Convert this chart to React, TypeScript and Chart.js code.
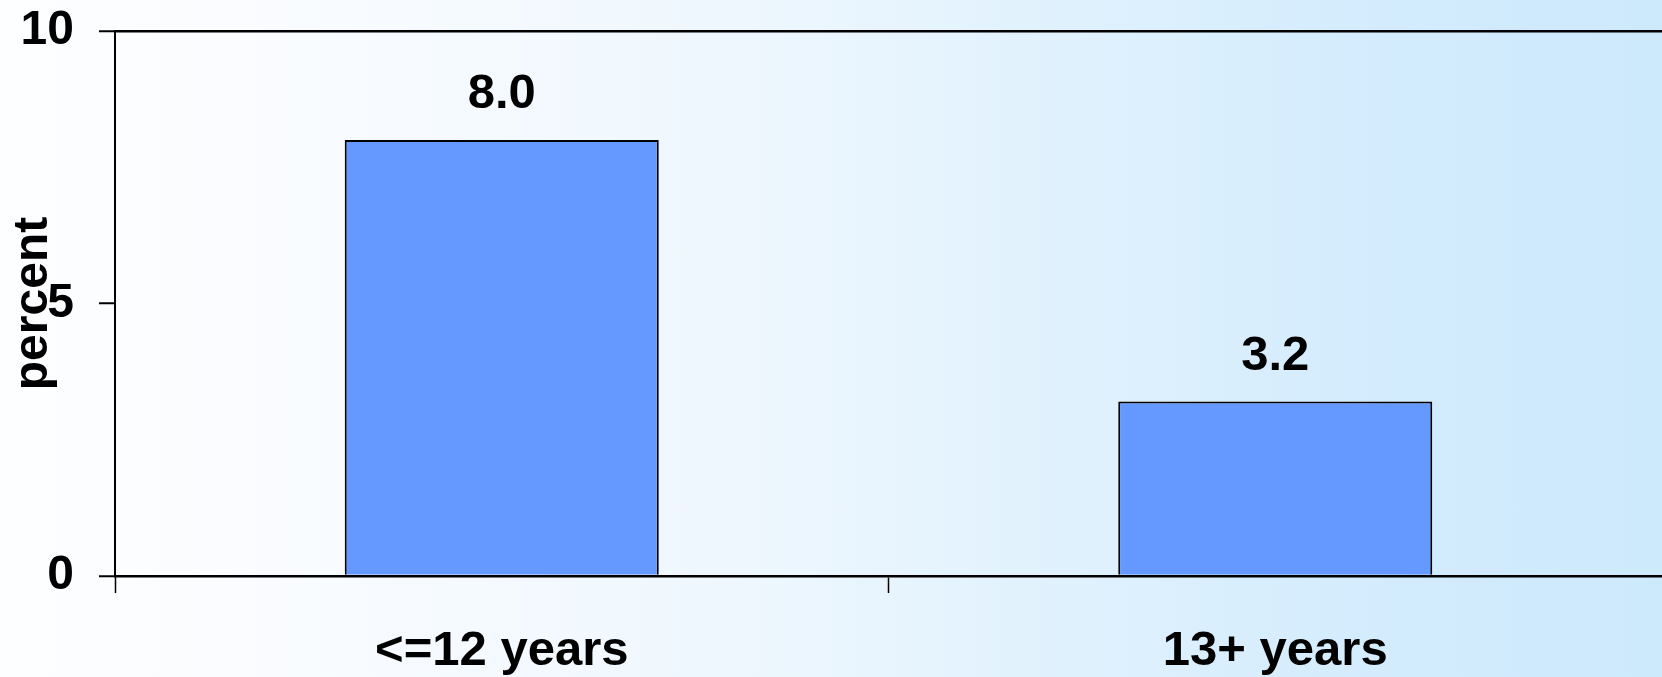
import React, { useEffect, useRef } from "react";
import { Chart, registerables } from "chart.js";

Chart.register(...registerables);

const categories = ["<=12 years", "13+ years"];
const percentValues = [8.0, 3.2];
const yTickValues = [0, 5, 10];
const yTitle = "percent";

const FONT = "'Liberation Sans', Arial, sans-serif";

const valueLabelPlugin = {
  id: "valueLabels",
  afterDatasetsDraw(chart: any) {
    const ctx = chart.ctx;
    const meta = chart.getDatasetMeta(0);
    ctx.save();
    ctx.fillStyle = "#000";
    ctx.font = `bold 49px ${FONT}`;
    ctx.textAlign = "center";
    ctx.textBaseline = "alphabetic";
    meta.data.forEach((bar: any, i: number) => {
      ctx.fillText(percentValues[i].toFixed(1), bar.x, bar.y - 32);
    });
    ctx.restore();
  },
};

const yTitlePlugin = {
  id: "yTitleOverlay",
  afterDraw(chart: any) {
    const ctx = chart.ctx;
    const area = chart.chartArea;
    ctx.save();
    ctx.fillStyle = "#000";
    ctx.font = `bold 48px ${FONT}`;
    ctx.textAlign = "center";
    ctx.textBaseline = "alphabetic";
    ctx.translate(area.left - 68, (area.top + area.bottom) / 2);
    ctx.rotate(-Math.PI / 2);
    ctx.fillText(yTitle, 0, 0);
    ctx.restore();
  },
};

export default function App() {
  const canvasRef = useRef<HTMLCanvasElement | null>(null);

  useEffect(() => {
    document.body.style.margin = "0";
    document.body.style.overflow = "hidden";
    const canvas = canvasRef.current;
    if (!canvas) return;
    const chart = new Chart(canvas, {
      type: "bar",
      data: {
        labels: categories,
        datasets: [
          {
            data: percentValues,
            backgroundColor: "#6699ff",
            borderColor: "#000",
            borderWidth: 2,
            barPercentage: 0.406,
            categoryPercentage: 1,
          },
        ],
      },
      options: {
        animation: false,
        responsive: false,
        maintainAspectRatio: false,
        layout: { padding: { top: 31, left: 0, right: 0, bottom: 0 } },
        plugins: {
          legend: { display: false },
          tooltip: { enabled: false },
          title: { display: false },
        },
        scales: {
          x: {
            type: "category",
            afterFit: (scale: any) => {
              scale.height = 101;
              scale.paddingLeft = 0;
              scale.paddingRight = 0;
            },
            grid: {
              display: true,
              offset: true,
              drawOnChartArea: false,
              drawTicks: true,
              tickLength: 17,
              tickColor: (c: any) => (c.type === "tick" ? "#000" : "rgba(0,0,0,0)"),
              tickWidth: 1.5,
            },
            border: { display: true, color: "#000", width: 2.5 },
            ticks: {
              color: "#000",
              padding: 29,
              maxRotation: 0,
              autoSkip: false,
              font: { family: FONT, size: 49, weight: "bold" },
            },
          },
          y: {
            min: 0,
            max: 10,
            afterFit: (scale: any) => {
              scale.width = 115;
              scale.paddingTop = 0;
              scale.paddingBottom = 0;
            },
            afterBuildTicks: (scale: any) => {
              scale.ticks = yTickValues.map((v) => ({ value: v }));
            },
            grid: {
              display: true,
              drawOnChartArea: true,
              drawTicks: true,
              tickLength: 16,
              color: (c: any) => (c.tick && c.tick.value === 10 ? "#000" : "rgba(0,0,0,0)"),
              lineWidth: 2.5,
              tickColor: "#000",
              tickWidth: 2,
            },
            border: { display: true, color: "#000", width: 2 },
            ticks: {
              color: "#000",
              padding: 25,
              font: { family: FONT, size: 48, weight: "bold" },
            },
          },
        },
      },
      plugins: [valueLabelPlugin, yTitlePlugin],
    });
    return () => chart.destroy();
  }, []);

  return (
    <div
      style={{
        width: 1662,
        height: 677,
        background:
          "linear-gradient(to right, #fdfeff 0%, #fafcff 15%, #eef7fe 45%, #dff1fd 65%, #d2ebfd 85%, #cde9fc 100%)",
      }}
    >
      <canvas ref={canvasRef} width={1662} height={677} style={{ display: "block" }} />
    </div>
  );
}
